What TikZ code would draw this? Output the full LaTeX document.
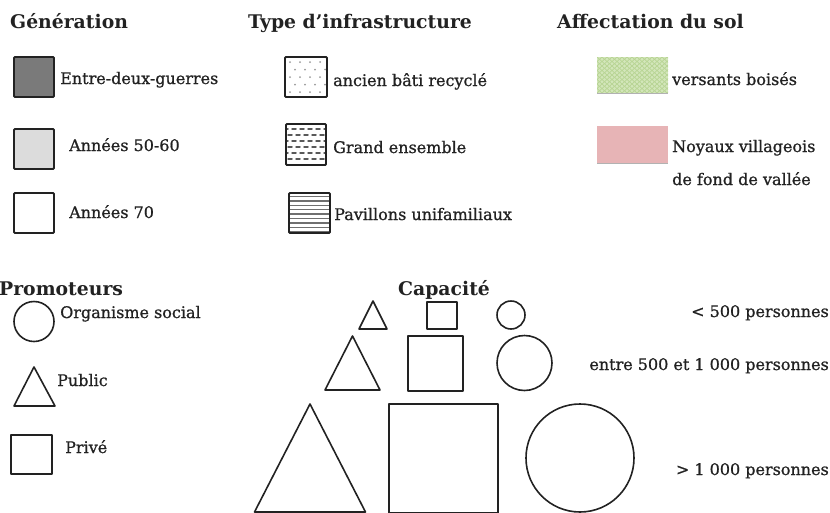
\documentclass[tikz,border=0pt]{standalone}
\usepackage{fontspec}
\setmainfont{DejaVu Serif}
\newfontfamily\lblfont[FakeBold=0.9]{DejaVu Serif}
\definecolor{ink}{HTML}{222222}
\definecolor{darkfill}{HTML}{7A7A7A}
\definecolor{lightfill}{HTML}{DCDCDC}
\definecolor{woodfill}{HTML}{D3E6BA}
\definecolor{woodmesh}{HTML}{B7D493}
\definecolor{villagefill}{HTML}{E7B4B6}
\begin{document}
\begin{tikzpicture}[x=1pt,y=-1pt,
  head/.style={font=\bfseries\fontsize{18.8}{21}\selectfont, anchor=base west, inner sep=0pt, text=ink},
  lbl/.style={font=\lblfont\fontsize{16}{18}\selectfont, anchor=base west, inner sep=0pt, text=ink},
  rlbl/.style={lbl, anchor=base east},
  swatch/.style={draw=ink, line width=1.8pt, rounded corners=1pt},
  figure/.style={draw=ink, line width=1.6pt, line join=round}]
\useasboundingbox (0,0) rectangle (830,512);

% ---------- headings ----------
\node[head] (hgen)  at (10,28)  {Génération};
\node[head] (htype) at (248,28) {Type d’infrastructure};
\node[head] (haff)  at (557,28) {Affectation du sol};
\node[head] (hprom) at (-1,295) {Promoteurs};
\node[head] (hcap)  at (398,295) {Capacité};

% ---------- génération ----------
\draw[swatch, fill=darkfill]  (14,57)  rectangle (54,97);
\draw[swatch, fill=lightfill] (14,129) rectangle (54,169);
\draw[swatch, fill=white]     (14,193) rectangle (54,233);
\node[lbl] (g1) at (60,84)  {Entre-deux-guerres};
\node[lbl] (g2) at (69,151) {Années 50-60};
\node[lbl] (g3) at (69,218) {Années 70};

% ---------- type d'infrastructure ----------
% recycled buildings: sparse dots
\begin{scope}
  \clip (285,57) rectangle (327,97);
  \foreach \r in {0,...,5}
    \foreach \c in {0,...,4}
      \fill[gray!80] ({290+\c*10+mod(\r,2)*5},{62+\r*7.5}) circle (1pt);
\end{scope}
\draw[swatch] (285,57) rectangle (327,97);
% large housing estate: staggered dashes
\begin{scope}
  \clip (286,124) rectangle (326,165);
  \foreach \r in {0,...,6}
    \foreach \c in {0,...,5}
      \draw[ink!75, line width=1.5pt, line cap=round]
        ({284+\c*8+mod(\r,2)*4},{129+\r*6}) -- ++(4,0);
\end{scope}
\draw[swatch] (286,124) rectangle (326,165);
% detached houses: horizontal hatching
\begin{scope}
  \clip (289,193) rectangle (330,233);
  \foreach \k in {0,...,8}
    \draw[ink!65, line width=1.4pt] (289,{196.5+\k*4.4}) -- (330,{196.5+\k*4.4});
\end{scope}
\draw[swatch] (289,193) rectangle (330,233);
\node[lbl] (t1) at (333,86)  {ancien bâti recyclé};
\node[lbl] (t2) at (333,153) {Grand ensemble};
\node[lbl] (t3) at (334,220) {Pavillons unifamiliaux};

% ---------- affectation du sol ----------
\fill[woodfill] (597,57) rectangle (668,93);
\begin{scope}
  \clip (597,57) rectangle (668,93);
  \foreach \k in {0,...,24} {
    \draw[woodmesh, line width=0.7pt] ({557+\k*5},57) -- ++(40,36);
    \draw[woodmesh, line width=0.7pt] ({597+\k*5},57) -- ++(-40,36);
  }
\end{scope}
\draw[gray!60, line width=1.2pt] (597,93.6) -- (668,93.6);
\fill[villagefill] (597,126) rectangle (668,163);
\draw[gray!60, line width=1.2pt] (597,163.6) -- (668,163.6);
\node[lbl] (a1) at (672,85)  {versants boisés};
\node[lbl] (a2) at (672,152) {Noyaux villageois};
\node[lbl] (a3) at (672,185) {de fond de vallée};

% ---------- promoteurs ----------
\draw[figure] (34,321.5) circle (20pt);
\draw[figure] (34,367) -- (55,406) -- (14,406) -- cycle;
\draw[figure] (11,435) rectangle (52,474);
\node[lbl] (p1) at (60,318) {Organisme social};
\node[lbl] (p2) at (57,386) {Public};
\node[lbl] (p3) at (65,453) {Privé};

% ---------- capacité ----------
% < 500
\draw[figure] (373,301) -- (387,329) -- (359,329) -- cycle;
\draw[figure] (427,302) rectangle (457,329);
\draw[figure] (511,315) circle (14pt);
% 500 - 1000
\draw[figure] (352.5,336) -- (380,390) -- (325,390) -- cycle;
\draw[figure] (408,336) rectangle (463,391);
\draw[figure] (524.5,363) circle (27.5pt);
% > 1000
\draw[figure] (310,404) -- (365.5,512) -- (254.5,512) -- cycle;
\draw[figure] (389,404) rectangle (498,513);
\draw[figure] (580,458) circle (54pt);

\node[rlbl] (c1) at (829,317) {< 500 personnes};
\node[rlbl] (c2) at (829,370) {entre 500 et 1 000 personnes};
\node[rlbl] (c3) at (829,475) {> 1 000 personnes};
\end{tikzpicture}
\end{document}
